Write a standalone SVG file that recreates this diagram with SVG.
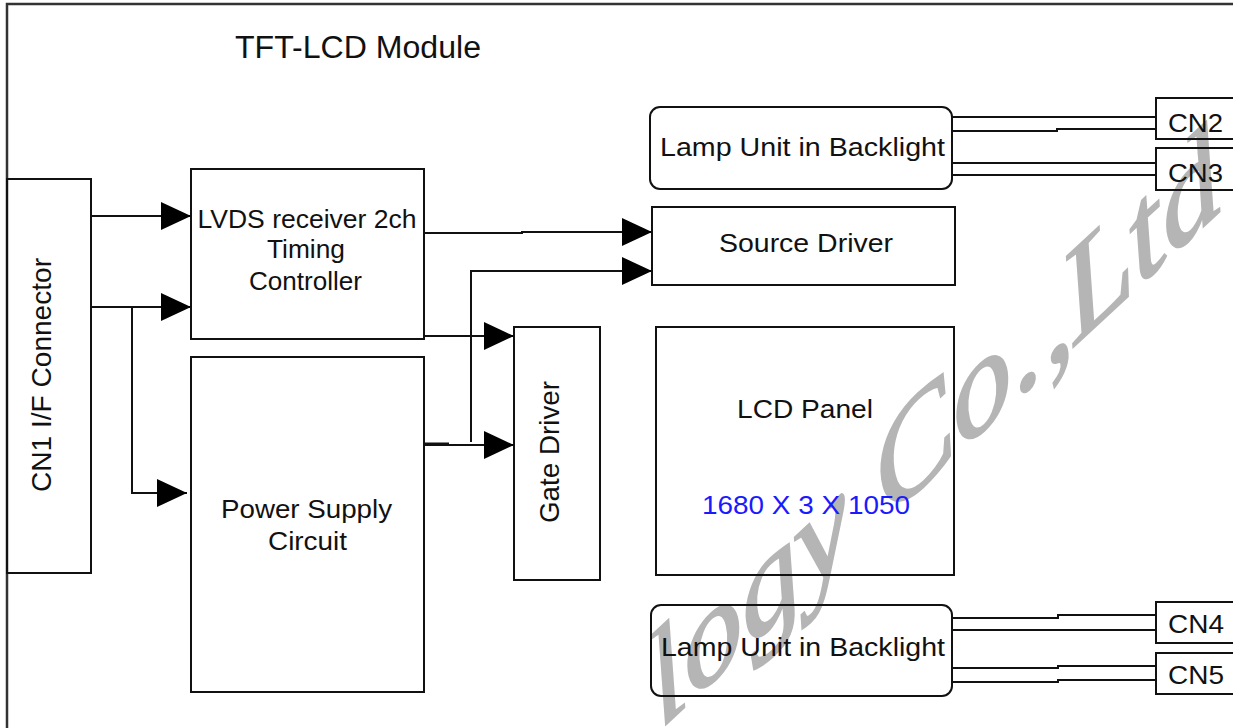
<svg xmlns="http://www.w3.org/2000/svg" width="1233" height="728" viewBox="0 0 1233 728">
<defs>
<style>
.box{fill:none;stroke:#111;stroke-width:2}
.wire{fill:none;stroke:#111;stroke-width:2}
.frame{fill:none;stroke:#333;stroke-width:2.5}
.t{font-family:"Liberation Sans",Arial,sans-serif;font-size:26px;fill:#111}
.c{text-anchor:middle}
.wm{font-family:"Liberation Serif","Times New Roman",serif;font-style:italic;font-size:120px;fill:#b5b5b5}
</style>
<marker id="arr" markerUnits="userSpaceOnUse" markerWidth="30" markerHeight="28" viewBox="0 0 30 28" refX="30" refY="14" orient="auto"><path d="M0 0 L30 14 L0 28 Z" fill="#000"/></marker>
</defs>
<rect width="1233" height="728" fill="#fff"/>
<g id="watermark"><text class="wm" transform="matrix(0.95 -0.88 0.25 1 660 730)" stroke="#b5b5b5" stroke-width="2">logy Co.,Ltd</text></g>

<g id="module">
<path class="frame" d="M7 728 V4 H1233"/>
<text class="t" x="235" y="58" style="font-size:31px" textLength="246" lengthAdjust="spacingAndGlyphs">TFT-LCD Module</text>
</g>

<g id="cn1">
<rect class="box" x="7" y="179" width="84" height="394"/>
<text class="t c" transform="translate(51,375) rotate(-90)" style="font-size:28px" textLength="234" lengthAdjust="spacingAndGlyphs">CN1 I/F Connector</text>
</g>

<g id="lvds">
<rect class="box" x="191" y="169" width="233" height="170"/>
<text class="t c" x="307" y="228" textLength="219" lengthAdjust="spacingAndGlyphs">LVDS receiver 2ch</text>
<text class="t c" x="306" y="258" textLength="78" lengthAdjust="spacingAndGlyphs">Timing</text>
<text class="t c" x="305.5" y="290" textLength="113" lengthAdjust="spacingAndGlyphs">Controller</text>
</g>

<g id="power">
<rect class="box" x="191" y="357" width="233" height="335"/>
<text class="t c" x="306.5" y="518" textLength="171" lengthAdjust="spacingAndGlyphs">Power Supply</text>
<text class="t c" x="307.5" y="550" textLength="79" lengthAdjust="spacingAndGlyphs">Circuit</text>
</g>

<g id="gate">
<rect class="box" x="514" y="327" width="86" height="253"/>
<text class="t c" transform="translate(559,452) rotate(-90)" style="font-size:28px" textLength="142" lengthAdjust="spacingAndGlyphs">Gate Driver</text>
</g>

<g id="source">
<rect class="box" x="652" y="207" width="303" height="78"/>
<text class="t c" x="806" y="252" textLength="174" lengthAdjust="spacingAndGlyphs">Source Driver</text>
</g>

<g id="lcd">
<rect class="box" x="656" y="327" width="298" height="248"/>
<text class="t c" x="805" y="418" textLength="136" lengthAdjust="spacingAndGlyphs">LCD Panel</text>
<text class="t c" x="806" y="514" style="fill:#1a1aff" textLength="208" lengthAdjust="spacingAndGlyphs">1680 X 3 X 1050</text>
</g>

<g id="lamp-top">
<rect class="box" x="650" y="107" width="302" height="82" rx="10"/>
<text class="t c" x="802.5" y="156" textLength="285" lengthAdjust="spacingAndGlyphs">Lamp Unit in Backlight</text>
</g>

<g id="lamp-bottom">
<rect class="box" x="651" y="605" width="301" height="91" rx="10"/>
<text class="t c" x="803" y="656" textLength="284" lengthAdjust="spacingAndGlyphs">Lamp Unit in Backlight</text>
</g>

<g id="cn2">
<rect class="box" x="1156" y="98" width="90" height="41"/>
<text class="t" x="1168" y="132" textLength="55" lengthAdjust="spacingAndGlyphs">CN2</text>
</g>
<g id="cn3">
<rect class="box" x="1156" y="148" width="90" height="42"/>
<text class="t" x="1168" y="182" textLength="55" lengthAdjust="spacingAndGlyphs">CN3</text>
</g>
<g id="cn4">
<rect class="box" x="1156" y="602" width="90" height="41"/>
<text class="t" x="1168" y="633" textLength="56" lengthAdjust="spacingAndGlyphs">CN4</text>
</g>
<g id="cn5">
<rect class="box" x="1156" y="653" width="90" height="41"/>
<text class="t" x="1168" y="684" textLength="56" lengthAdjust="spacingAndGlyphs">CN5</text>
</g>

<g id="connectors">
<path class="wire" d="M91 216 H191" marker-end="url(#arr)"/>
<path class="wire" d="M91 307 H191" marker-end="url(#arr)"/>
<path class="wire" d="M132 307 V493 H187" marker-end="url(#arr)"/>
<path class="wire" d="M424 233 H522 V232 H652" marker-end="url(#arr)"/>
<path class="wire" d="M471 442 V271 H652" marker-end="url(#arr)"/>
<path class="wire" d="M424 336 H514" marker-end="url(#arr)"/>
<path class="wire" d="M424 445 H514" marker-end="url(#arr)"/>
<rect x="425" y="442.5" width="24" height="2.5" fill="#111"/>
<path class="wire" d="M952 117 H1156"/>
<path class="wire" d="M952 131 H1057 V129 H1156"/>
<path class="wire" d="M952 163 H1156"/>
<path class="wire" d="M952 175 H1156"/>
<path class="wire" d="M952 618 H1058 V615 H1156"/>
<path class="wire" d="M952 630 H1156"/>
<path class="wire" d="M952 668 H1058 V666 H1156"/>
<path class="wire" d="M952 682 H1058 V680 H1156"/>
</g>
</svg>
